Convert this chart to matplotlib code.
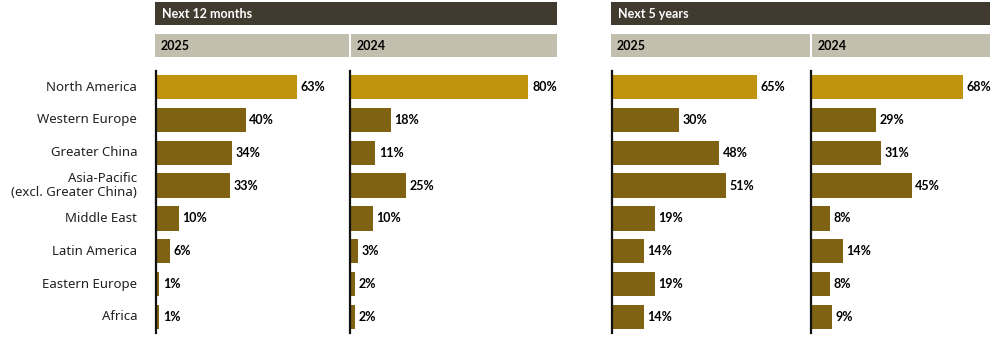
import matplotlib.pyplot as plt
from matplotlib.patches import Rectangle

# --- Data -----------------------------------------------------------------
REGIONS = ['North America', 'Western Europe', 'Greater China',
           'Asia-Pacific\n(excl. Greater China)', 'Middle East',
           'Latin America', 'Eastern Europe', 'Africa']
PERIODS = ['Next 12 months', 'Next 5 years']
YEARS = ['2025', '2024']
M12_2025 = [63, 40, 34, 33, 10, 6, 1, 1]
M12_2024 = [80, 18, 11, 25, 10, 3, 2, 2]
Y5_2025 = [65, 30, 48, 51, 19, 14, 19, 14]
Y5_2024 = [68, 29, 31, 45, 8, 14, 8, 9]

GOLD = '#C0940E'
BROWN = '#7F6313'
DARK = '#403A2F'
GREY = '#C3BFAE'
FONT = 'Noto Sans'
BOLD = 'Lato'

W, H = 993, 337
fig = plt.figure(figsize=(W / 100, H / 100), dpi=100)
fig.patch.set_facecolor('white')

PX_PER_PCT = 2.22
# panel pixel spans (left, right) for the four small multiples
SPANS = [(156, 349), (350, 557), (612, 810), (811, 990)]
SERIES = [M12_2025, M12_2024, Y5_2025, Y5_2024]

AX_TOP, AX_BOT = 70.6, 333.4


def fx(px):
    return px / W


def fy(py):
    return 1 - py / H


# --- Headers --------------------------------------------------------------
for p, period in enumerate(PERIODS):
    left = SPANS[2 * p][0]
    right = SPANS[2 * p + 1][1]
    fig.patches.append(Rectangle((fx(left - 1), fy(25)), fx(right - left + 1), 23 / H,
                                 transform=fig.transFigure, facecolor=DARK,
                                 edgecolor='none'))
    fig.text(fx(left + 6), fy(13.5), period, color='white', fontsize=9,
             fontweight='bold', family=BOLD, va='center', ha='left')
    for k, year in enumerate(YEARS):
        l, r = SPANS[2 * p + k]
        l0 = l - 1 if k == 0 else l + 1
        fig.patches.append(Rectangle((fx(l0), fy(57)), fx(r - l0), 23 / H,
                                     transform=fig.transFigure, facecolor=GREY,
                                     edgecolor='none'))
        fig.text(fx(l0 + 6), fy(45.5), year, color='black', fontsize=9,
                 fontweight='bold', family=BOLD, va='center', ha='left')

# --- Panels ---------------------------------------------------------------
for i, (span, vals) in enumerate(zip(SPANS, SERIES)):
    l, r = span
    ax = fig.add_axes([fx(l), fy(AX_BOT), fx(r - l), (AX_BOT - AX_TOP) / H])
    ax.set_xlim(0, (r - l) / PX_PER_PCT)
    ax.set_ylim(len(REGIONS) - 0.5, -0.5)
    ypos = list(range(len(REGIONS)))
    colors = [GOLD] + [BROWN] * (len(REGIONS) - 1)
    ax.barh(ypos, vals, height=0.74, color=colors, left=0.4)
    for y, v in zip(ypos, vals):
        ax.text(v + 0.4 + 1.6, y, f'{v}%', va='center', ha='left', fontsize=9,
                fontweight='bold', family=BOLD, clip_on=False)
    for s in ['top', 'right', 'bottom']:
        ax.spines[s].set_visible(False)
    ax.spines['left'].set_linewidth(1.6)
    ax.spines['left'].set_color('#111111')
    ax.set_xticks([])
    ax.set_yticks([])
    if i == 0:
        for y, name in zip(ypos, REGIONS):
            ax.text(-8.5, y, name, va='center', ha='right', ma='right',
                    fontsize=9.5, family=FONT, color='#222222',
                    linespacing=1.1, clip_on=False)

fig.savefig('out.png', dpi=100, facecolor='white')
